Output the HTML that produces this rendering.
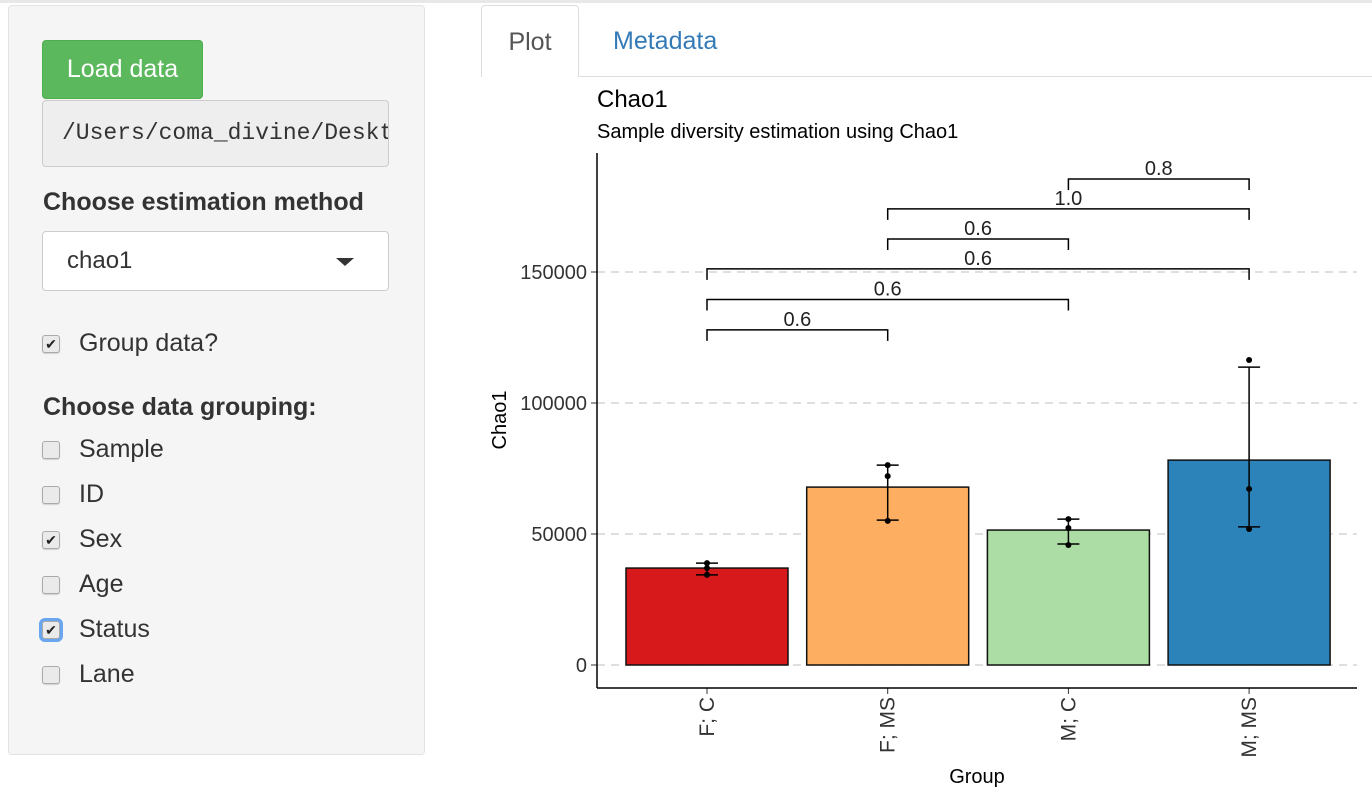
<!DOCTYPE html>
<html><head><meta charset="utf-8"><style>
body{margin:0;width:1372px;height:810px;background:#fff;font-family:"Liberation Sans",sans-serif;position:relative;overflow:hidden;color:#333}
.abs{position:absolute}
.cb{position:absolute;left:42px;width:18px;height:18px;border:1px solid #aaa;border-radius:3px;background:#eaeaea;box-sizing:border-box;font-size:14px;line-height:16px;text-align:center;color:#222;box-shadow:0 1px 1px rgba(0,0,0,.15)}
.lbl{position:absolute;left:79px;font-size:25px;color:#333}
</style></head><body>
<div class="abs" style="left:0;top:0;width:1372px;height:3px;background:#e8e8e8"></div>
<div class="abs" style="left:8px;top:5px;width:417px;height:750px;background:#f5f5f5;border:1px solid #e3e3e3;border-radius:4px;box-sizing:border-box"></div>
<div class="abs" style="left:42px;top:40px;width:161px;height:59px;background:#5cb85c;border:1px solid #4cae4c;border-radius:4px;box-sizing:border-box;color:#fff;font-size:25px;line-height:57px;text-align:center">Load data</div>
<div class="abs" style="left:42px;top:100px;width:347px;height:67px;background:#eee;border:1px solid #ccc;border-radius:4px;box-sizing:border-box;font-family:'Liberation Mono',monospace;font-size:23px;line-height:65px;padding-left:19px;white-space:nowrap;overflow:hidden">/Users/coma_divine/Desktop</div>
<div class="abs" style="left:43px;top:188px;font-size:25px;font-weight:bold">Choose estimation method</div>
<div class="abs" style="left:42px;top:231px;width:347px;height:60px;background:#fff;border:1px solid #ccc;border-radius:4px;box-sizing:border-box;font-size:24px;line-height:58px;padding-left:24px">chao1<span style="position:absolute;right:34px;top:26px;width:0;height:0;border-left:9px solid transparent;border-right:9px solid transparent;border-top:8px solid #333"></span></div>
<div class="cb" style="top:335px">✔</div><div class="lbl" style="top:329px">Group data?</div>
<div class="abs" style="left:43px;top:393px;font-size:25px;font-weight:bold">Choose data grouping:</div>
<div class="cb" style="top:441px"></div><div class="lbl" style="top:435px">Sample</div>
<div class="cb" style="top:486px"></div><div class="lbl" style="top:480px">ID</div>
<div class="cb" style="top:531px">✔</div><div class="lbl" style="top:525px">Sex</div>
<div class="cb" style="top:576px"></div><div class="lbl" style="top:570px">Age</div>
<div class="cb" style="top:621px;box-shadow:0 0 0 3px #6aa6f0">✔</div><div class="lbl" style="top:615px">Status</div>
<div class="cb" style="top:666px"></div><div class="lbl" style="top:660px">Lane</div>

<div class="abs" style="left:481px;top:76px;width:891px;height:1px;background:#ddd"></div>
<div class="abs" style="left:481px;top:5px;width:98px;height:72px;background:#fff;border:1px solid #ddd;border-bottom:none;border-radius:4px 4px 0 0;box-sizing:border-box;font-size:25px;line-height:72px;text-align:center;color:#555">Plot</div>
<div class="abs" style="left:613px;top:27px;font-size:25px;color:#337ab7">Metadata</div>

<svg class="abs" style="left:0;top:0" width="1372" height="810" id="chart"></svg>
<script>
const categories=["F; C","F; MS","M; C","M; MS"];
const means=[37000,67900,51500,78200];
const errLow=[34400,55300,46200,52700];
const errHigh=[38900,76300,55700,113700];
const pts=[[38900,37000,34400],[76300,72100,55000],[55700,52300,45800],[116400,67200,51900]];
const colors=["#d7191c","#fdae61","#abdda4","#2b83ba"];
const yTicks=[0,50000,100000,150000];
const compPairs=[[0,1],[0,2],[0,3],[1,2],[1,3],[2,3]];
const compLabels=["0.6","0.6","0.6","0.6","1.0","0.8"];
const compY=[127900,139500,151200,162600,174100,185500];

const NS="http://www.w3.org/2000/svg";
const svg=document.getElementById('chart');
const y=v=>665-v*0.00262;
const xc=i=>707+i*180.7;
function mk(t,a,name){const e=document.createElementNS(NS,t);for(const k in a)e.setAttribute(k,a[k]);


svg.appendChild(e);return e;}
function txt(s,a,name){const e=mk('text',a,name);e.textContent=s;return e;}
yTicks.forEach((t,i)=>{
 mk('line',{x1:597,x2:1357,y1:y(t),y2:y(t),stroke:'#ccc','stroke-dasharray':'8,6','stroke-width':1.3},'gridline');
 mk('line',{x1:591,x2:597,y1:y(t),y2:y(t),stroke:'#333'},'y-tick');
 txt(String(t),{x:587,y:y(t)+7,'text-anchor':'end','font-size':20,fill:'#333'},'y-tick-label');
});
categories.forEach((c,i)=>{
 const x=xc(i);
 mk('rect',{x:x-81,y:y(means[i]),width:162,height:y(0)-y(means[i]),fill:colors[i],stroke:'#111','stroke-width':1.5},'bar-'+i);
 mk('line',{x1:x,x2:x,y1:y(errHigh[i]),y2:y(errLow[i]),stroke:'#000','stroke-width':1.5},'error-bar');
 mk('line',{x1:x-11,x2:x+11,y1:y(errHigh[i]),y2:y(errHigh[i]),stroke:'#000','stroke-width':1.5},'error-cap');
 mk('line',{x1:x-11,x2:x+11,y1:y(errLow[i]),y2:y(errLow[i]),stroke:'#000','stroke-width':1.5},'error-cap');
 pts[i].forEach(p=>mk('circle',{cx:x,cy:y(p),r:3,fill:'#000'},'data-point'));
 mk('line',{x1:x,x2:x,y1:688,y2:694,stroke:'#333'},'x-tick');
 txt(c,{x:0,y:0,transform:`translate(${x+7},697) rotate(-90)`,'text-anchor':'end','font-size':21,fill:'#333'},'x-tick-label');
});
compPairs.forEach((p,k)=>{
 const x1=xc(p[0]),x2=xc(p[1]),yy=y(compY[k]);
 mk('polyline',{points:`${x1},${yy+11} ${x1},${yy} ${x2},${yy} ${x2},${yy+11}`,fill:'none',stroke:'#000','stroke-width':1.5},'comparison-bracket');
 txt(compLabels[k],{x:(x1+x2)/2,y:yy-4,'text-anchor':'middle','font-size':20,fill:'#222'},'p-value-label');
});
mk('line',{x1:597,x2:597,y1:153,y2:688,stroke:'#000','stroke-width':1.5},'y-axis');
mk('line',{x1:597,x2:1357,y1:688,y2:688,stroke:'#000','stroke-width':1.5},'x-axis');
txt('Chao1',{x:597,y:107,'font-size':24,fill:'#000'},'chart-title');
txt('Sample diversity estimation using Chao1',{x:597,y:138,'font-size':20,fill:'#000'},'chart-subtitle');
txt('Group',{x:977,y:783,'text-anchor':'middle','font-size':20,fill:'#000'},'x-axis-title');
txt('Chao1',{x:0,y:0,transform:'translate(506,420) rotate(-90)','text-anchor':'middle','font-size':20,fill:'#000'},'y-axis-title');
</script>
</body></html>
